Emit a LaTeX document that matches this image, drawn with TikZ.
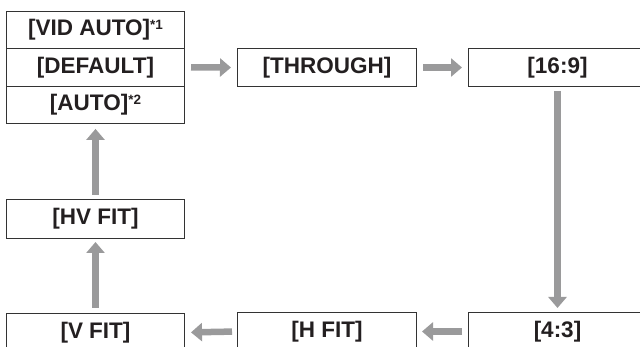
\documentclass[tikz,border=0pt]{standalone}
\usepackage{fontspec}
\setmainfont{Liberation Sans}
\usetikzlibrary{arrows.meta}
\definecolor{arrowgray}{HTML}{9A9A9B}
\definecolor{boxline}{HTML}{333333}
\definecolor{textdark}{HTML}{231F20}
\newcommand{\supmark}[1]{\raisebox{6.5pt}{\fontsize{13.5}{13.5}\selectfont #1}}
\tikzset{
  box/.style={draw=boxline, line width=1pt, rectangle, anchor=north west, inner sep=0pt,
    minimum width=178pt, minimum height=38pt, font=\fontsize{22.5}{25}\selectfont\bfseries, text=textdark},
  flow/.style={draw=arrowgray, line width=6.5pt, -{Triangle[length=11pt,width=18pt]}},
}
\begin{document}
\begin{tikzpicture}[x=1pt,y=-1pt]
\path[use as bounding box] (0,0) rectangle (640,347);
\clip (0,0) rectangle (640,347);
% stacked cells
\node[box, minimum height=37.3pt] (vid) at (6,11) {[VID AUTO]\supmark{*1}};
\node[box, minimum height=37.3pt] (default) at (6,48.3) {[DEFAULT]};
\node[box, minimum height=37.3pt] (auto) at (6,85.6) {[AUTO]\supmark{*2}};
% top row
\node[box, minimum width=179pt] (through) at (237,48) {[THROUGH]};
\node[box] (s169) at (468,48) {[16:9]};
% left column
\node[box, minimum height=39pt] (hv) at (6,199) {[HV FIT]};
% bottom row
\node[box] (vfit) at (6,313) {[V FIT]};
\node[box, minimum width=179pt] (hfit) at (237,312) {[H FIT]};
\node[box] (s43) at (468,312) {[4:3]};
% connectors
\draw[flow, shorten <=6pt, shorten >=6pt] (default.east) -- (through.west);
\draw[flow, shorten <=6pt, shorten >=6pt] (through.east) -- (s169.west);
\draw[flow, shorten <=4pt, shorten >=4pt] (s169.south) -- (s43.north);
\draw[flow, shorten <=6pt, shorten >=5pt] (s43.west) -- (hfit.east);
\draw[flow, shorten <=5pt, shorten >=6pt] (hfit.west) -- (vfit.east);
\draw[flow, shorten <=5pt, shorten >=3pt] (vfit.north) -- (hv.south);
\draw[flow, shorten <=4pt, shorten >=5pt] (hv.north) -- (auto.south);
\end{tikzpicture}
\end{document}
